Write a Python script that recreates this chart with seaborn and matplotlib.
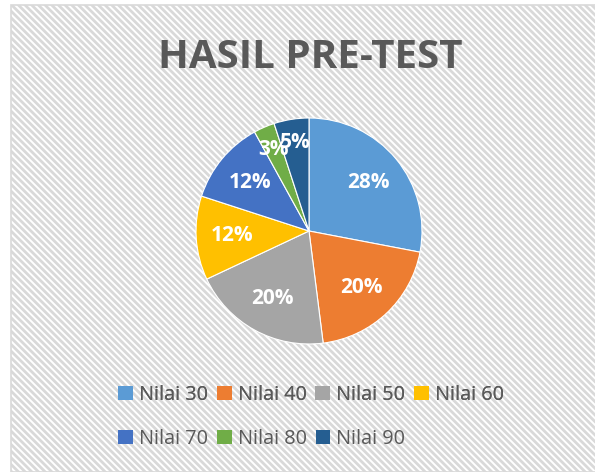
import matplotlib
matplotlib.use("Agg")
import matplotlib.pyplot as plt
import seaborn as sns
from matplotlib.patches import Rectangle, Patch
import matplotlib as mpl

categories = ["Nilai 30", "Nilai 40", "Nilai 50", "Nilai 60", "Nilai 70", "Nilai 80", "Nilai 90"]
values = [28, 20, 20, 12, 12, 3, 5]
labels = ["28%", "20%", "20%", "12%", "12%", "3%", "5%"]
colors = ["#5B9BD5", "#ED7D31", "#A5A5A5", "#FFC000", "#4472C4", "#70AD47", "#255E91"]
title = "HASIL PRE-TEST"

sns.set_theme(style="white")
plt.rcParams["font.family"] = ["Open Sans", "DejaVu Sans"]
mpl.rcParams["hatch.color"] = "#f4f4f4"
mpl.rcParams["hatch.linewidth"] = 2.0

W, H = 595, 472
fig = plt.figure(figsize=(W / 100, H / 100), dpi=100)
fig.patch.set_facecolor("white")

# chart area background with faint diagonal hatch and border
bg = Rectangle((11 / W, 0), 1.2, (H - 5) / H, transform=fig.transFigure,
               facecolor="white", edgecolor="#d9d9d9", hatch="\\\\\\\\\\", linewidth=1.2, zorder=0)
fig.add_artist(bg)

# pie axes: center (309, 231), radius ~113
cx, cy, r = 309, 231, 113
ax = fig.add_axes([(cx - r) / W, (H - cy - r) / H, 2 * r / W, 2 * r / H])
ax.set_facecolor("none")
wedges, texts = ax.pie(values, colors=colors, startangle=90, counterclock=False,
                       wedgeprops=dict(edgecolor="white", linewidth=0.8),
                       labels=labels, labeldistance=0.68,
                       textprops=dict(color="white", fontsize=15, fontweight="bold"))
for t, v in zip(texts, values):
    t.set_horizontalalignment("center")
    t.set_verticalalignment("center")
    if v < 10:
        x, y = t.get_position()
        f = 0.79 / 0.68
        t.set_position((x * f, y * f))
ax.set_xlim(-1, 1)
ax.set_ylim(-1, 1)
ax.set_aspect("equal")
ax.axis("off")

fig.text(310 / W, 1 - 58 / H, title, ha="center", va="center", fontsize=29,
         fontweight="bold", color="#595959")

handles = [Patch(facecolor=c, edgecolor="none") for c in colors]
kw = dict(frameon=False, fontsize=14.3, handlelength=0.75, handleheight=0.75,
          handletextpad=0.3, columnspacing=0.45, labelcolor="#595959",
          borderaxespad=0, borderpad=0)
row1 = fig.legend(handles[:4], categories[:4], loc="center left",
                  bbox_to_anchor=(118 / W, 1 - 395 / H), ncol=4, **kw)
row2 = fig.legend(handles[4:], categories[4:], loc="center left",
                  bbox_to_anchor=(118 / W, 1 - 439 / H), ncol=3, **kw)
fig.add_artist(row1)

fig.savefig("out.png", dpi=100)
